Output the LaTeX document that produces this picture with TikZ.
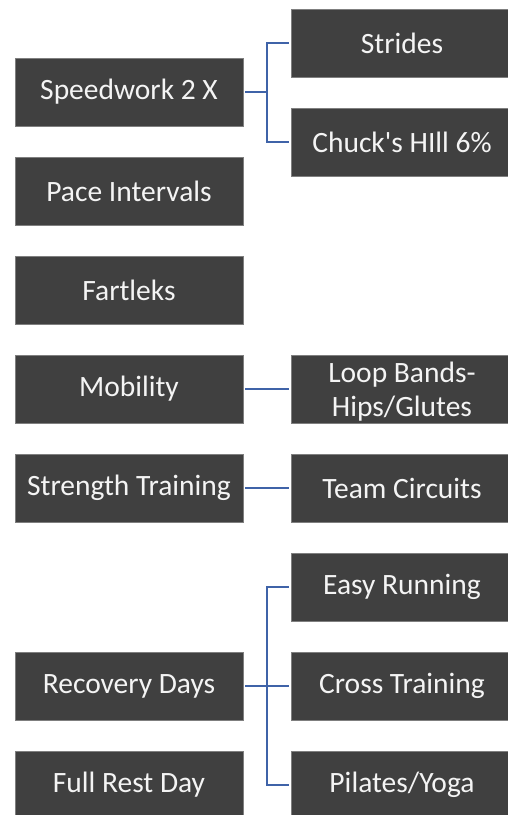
\documentclass[tikz,border=0pt]{standalone}
\usepackage{fontspec}
\setmainfont{Carlito}[Ligatures=TeXOff]
\definecolor{boxfill}{HTML}{404040}
\definecolor{boxedge}{HTML}{7F7F7F}
\definecolor{boxtext}{HTML}{F4F4F4}
\definecolor{linkblue}{HTML}{3F63A8}
\tikzset{
  item/.style={rectangle, fill=boxfill, draw=boxedge, line width=0.6pt,
    minimum height=68pt, text=boxtext, align=center,
    font=\fontsize{29.5}{34}\selectfont, inner sep=0pt},
  leftitem/.style={item, minimum width=228pt},
  rightitem/.style={item, minimum width=222pt},
  link/.style={draw=linkblue, line width=2.2pt}
}
\begin{document}
\begin{tikzpicture}[x=1pt, y=-1pt]
  \useasboundingbox (0,0) rectangle (508,815);
  % left column (left edge 15, right edge 243)
  \node[leftitem] (speed)    at (129,92)  {Speedwork 2 X};
  \node[leftitem] (pace)     at (129,191) {Pace Intervals};
  \node[leftitem] (fart)     at (129,290) {Fartleks};
  \node[leftitem] (mob)      at (129,389) {Mobility};
  \node[leftitem] (strength) at (129,488) {Strength Training};
  \node[leftitem] (recov)    at (129,686) {Recovery Days};
  \node[leftitem] (rest)     at (129,785) {Full Rest Day};
  % right column (left edge 291)
  \node[rightitem] (strides) at (402,43)  {Strides};
  \node[rightitem] (chuck)   at (402,142) {Chuck's HIll 6\%};
  \node[rightitem] (loop)    at (402,389)
    {\raisebox{-27pt}[0pt][0pt]{\shortstack{Loop Bands-\\[5pt]Hips/Glutes}}};
  \node[rightitem] (team)    at (402,488) {Team Circuits};
  \node[rightitem] (easy)    at (402,587) {Easy Running};
  \node[rightitem] (cross)   at (402,686) {Cross Training};
  \node[rightitem] (pilates) at (402,785) {Pilates/Yoga};
  % connectors
  \coordinate (busA) at (267,92);
  \draw[link] ([xshift=2pt]speed.east) -- (busA);
  \draw[link] (busA) |- ([xshift=-2pt]strides.west);
  \draw[link] (busA) |- ([xshift=-2pt]chuck.west);
  \draw[link] ([xshift=2pt]mob.east) -- ([xshift=-2pt]loop.west);
  \draw[link] ([xshift=2pt]strength.east) -- ([xshift=-2pt]team.west);
  \coordinate (busB) at (267,686);
  \draw[link] ([xshift=2pt]recov.east) -- ([xshift=-2pt]cross.west);
  \draw[link] (busB) |- ([xshift=-2pt]easy.west);
  \draw[link] (busB) |- ([xshift=-2pt]pilates.west);
\end{tikzpicture}
\end{document}
